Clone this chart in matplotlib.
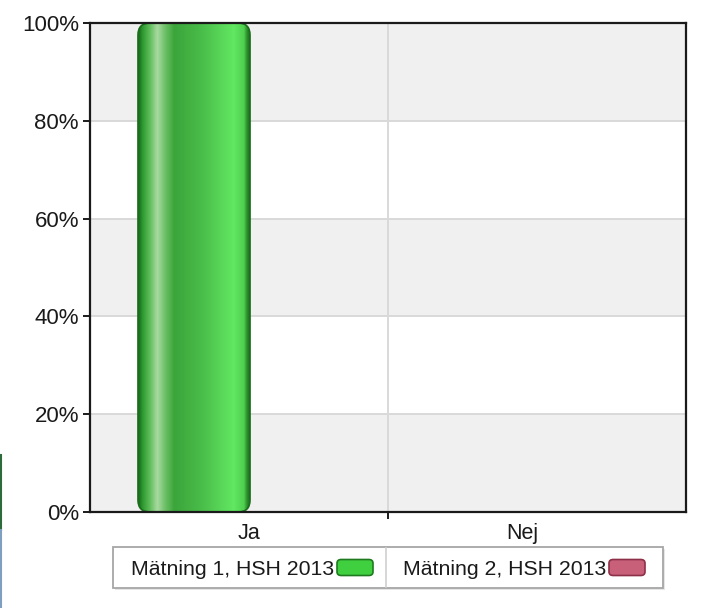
"""Mätning 1 vs Mätning 2, HSH 2013 - grouped percentage bars."""

import numpy as np
import matplotlib.pyplot as plt
from matplotlib.patches import FancyBboxPatch, Rectangle
from matplotlib.lines import Line2D
from matplotlib.transforms import ScaledTranslation

plt.rcParams["font.family"] = ["Liberation Sans", "DejaVu Sans"]

categories = ["Ja", "Nej"]
series_names = ["Mätning 1, HSH 2013", "Mätning 2, HSH 2013"]
series_values = [
    [100, 0],
    [0, 0],
]
y_ticks = [0, 20, 40, 60, 80, 100]

# colour stops across the bar width (position, rgb) for the glossy look
green_stops = [
    (0.00, "#17661a"), (0.04, "#2f9a30"), (0.10, "#5cbc58"), (0.17, "#a9d9a2"),
    (0.24, "#6cc066"), (0.32, "#3ba53b"), (0.55, "#48bb48"), (0.85, "#62e862"),
    (0.94, "#4fcf4f"), (0.97, "#2a8a2a"), (1.00, "#17661a"),
]
swatch_faces = ["#3fcf3f", "#c8607a"]
swatch_edges = ["#1f7a1f", "#8e2f48"]

W, H, DPI = 709, 608, 100


def gradient_image(stops, n=200):
    pos = np.array([p for p, _ in stops])
    cols = np.array([plt.matplotlib.colors.to_rgb(c) for _, c in stops])
    t = np.linspace(0, 1, n)
    rgb = np.stack([np.interp(t, pos, cols[:, k]) for k in range(3)], axis=-1)
    return rgb[np.newaxis, :, :]


def main() -> None:
    fig = plt.figure(figsize=(W / DPI, H / DPI), dpi=DPI)
    ax = fig.add_axes([90 / W, 1 - 512 / H, (686 - 90) / W, (512 - 23) / H])

    n_cat = len(categories)
    x = np.arange(n_cat)
    ax.set_xlim(-0.5, n_cat - 0.5)
    ax.set_ylim(0, 100)

    # alternating horizontal bands
    for i, (lo, hi) in enumerate(zip(y_ticks[:-1], y_ticks[1:])):
        if i % 2 == 0:
            ax.axhspan(lo, hi, color="#f0f0f0", zorder=0, lw=0)
    for t in y_ticks[1:-1]:
        ax.axhline(t, color="#d9d9d9", lw=1.4, zorder=1)
    for b in np.arange(n_cat - 1) + 0.5:
        ax.axvline(b, color="#d9d9d9", lw=1.4, zorder=1)

    width = 0.376
    offsets = [-0.151, 0.151]
    grad = gradient_image(green_stops)
    for s, vals in enumerate(series_values):
        bars = ax.bar(x + offsets[s], vals, width=width, color="none", lw=0, zorder=2)
        if s != 0:
            continue
        for bar in bars:
            h = bar.get_height()
            if h <= 0:
                continue
            x0, w = bar.get_x(), bar.get_width()
            # rounded corners: radius in display pixels converted to data units
            rx = 12 / (596 / n_cat)
            ry = 12 / (489 / 100)
            patch = FancyBboxPatch(
                (x0, 0), w, h,
                boxstyle=f"round,pad=0,rounding_size={rx}",
                mutation_aspect=ry / rx,
                transform=ax.transData, facecolor="none",
                edgecolor="#1c6e1c", lw=1.2, zorder=4,
            )
            ax.add_patch(patch)
            img = ax.imshow(grad, extent=(x0, x0 + w, 0, h), aspect="auto",
                            interpolation="bilinear", zorder=3)
            img.set_clip_path(patch)
    ax.set_xlim(-0.5, n_cat - 0.5)
    ax.set_ylim(0, 100)

    # axes styling
    for sp in ax.spines.values():
        sp.set_color("#1a1a1a")
        sp.set_linewidth(1.6)
        sp.set_zorder(6)
    ax.set_yticks(y_ticks)
    ax.set_yticklabels([f"{t}%" for t in y_ticks])
    ax.tick_params(axis="y", length=5, width=1.4, pad=3, labelsize=16, colors="#1a1a1a")
    ax.set_xticks(x)
    ax.set_xticklabels(categories)
    ax.tick_params(axis="x", length=0, pad=8, labelsize=15.5, colors="#1a1a1a")
    ax.set_xticks(np.arange(n_cat - 1) + 0.5, minor=True)
    ax.tick_params(axis="x", which="minor", length=5, width=1.4, color="#1a1a1a")
    for lab, dx in zip(ax.get_xticklabels(), [10, -15]):
        lab.set_transform(lab.get_transform() + ScaledTranslation(dx / DPI, 0, fig.dpi_scale_trans))

    # legend box drawn in figure pixels
    def fx(px):
        return px / W

    def fy(py):
        return 1 - py / H

    box_l, box_r, box_t, box_b = 113, 663, 547, 588
    fig.patches.append(Rectangle((fx(box_l + 2), fy(box_b + 2)), fx(box_r - box_l), (box_b - box_t) / H,
                                 transform=fig.transFigure, facecolor="#e6e6e6", edgecolor="none", zorder=1))
    fig.patches.append(Rectangle((fx(box_l), fy(box_b)), fx(box_r - box_l), (box_b - box_t) / H,
                                 transform=fig.transFigure, facecolor="white", edgecolor="#a6a6a6",
                                 lw=1.3, zorder=2))
    fig.lines.append(Line2D([fx(386), fx(386)], [fy(box_b - 1), fy(box_t + 1)],
                            transform=fig.transFigure, color="#d0d0d0", lw=1.2, zorder=3))
    swatch_left = [337, 609]
    ymid = (box_t + box_b) / 2
    for name, sl, fc, ec in zip(series_names, swatch_left, swatch_faces, swatch_edges):
        fig.text(fx(sl - 3), fy(ymid + 2), name, ha="right", va="center", fontsize=15.3,
                 color="#1a1a1a", zorder=4)
        sw = FancyBboxPatch((fx(sl), fy(ymid + 8)), fx(36), 16 / H,
                            boxstyle="round,pad=0,rounding_size=0.006",
                            transform=fig.transFigure, facecolor=fc, edgecolor=ec, lw=1.2, zorder=4)
        fig.patches.append(sw)

    # screenshot edge remnants
    fig.lines.append(Line2D([fx(0.8), fx(0.8)], [fy(455), fy(530)], transform=fig.transFigure,
                            color="#2e6b3a", lw=1.5))
    fig.lines.append(Line2D([fx(0.8), fx(0.8)], [fy(530), fy(608)], transform=fig.transFigure,
                            color="#7f9fbf", lw=1.5))

    fig.savefig("out.png", dpi=DPI)
    plt.close(fig)


if __name__ == "__main__":
    main()
